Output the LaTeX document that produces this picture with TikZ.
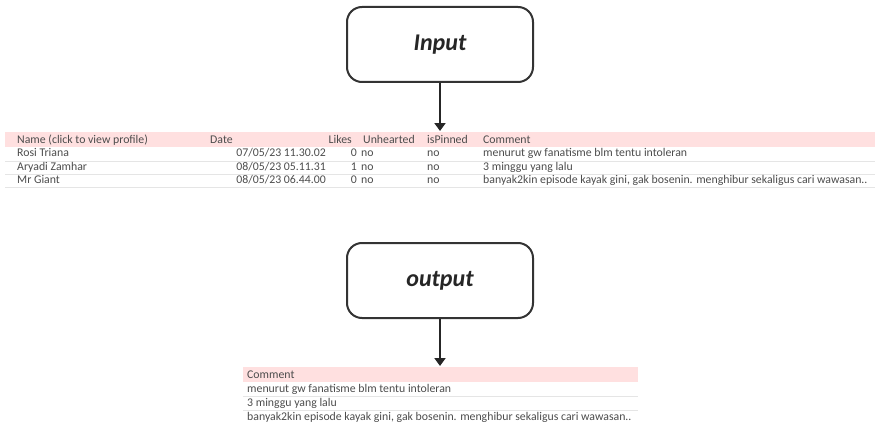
\documentclass[tikz,border=0pt]{standalone}
\usepackage{fontspec}
\setmainfont{Carlito}
\usetikzlibrary{arrows.meta}
\begin{document}
\begin{tikzpicture}[x=1pt,y=-1pt,
  flowbox/.style={draw=black!80,line width=2pt,rounded corners=15pt,minimum width=186pt,minimum height=75pt,font=\fontsize{24}{26}\selectfont\bfseries\itshape,text=black!85},
  conn/.style={draw=black!85,line width=2pt,-{Triangle[length=8pt,width=11pt]}},
  cell/.style={anchor=base west,inner sep=0pt,font=\fontsize{11.8}{13}\selectfont,text=black!70},
  rcell/.style={anchor=base east,inner sep=0pt,font=\fontsize{11.8}{13}\selectfont,text=black!70},
  hdr/.style={fill=red!12,draw=none},
  sep/.style={draw=black!10,line width=0.5pt}]
\useasboundingbox (0,0) rectangle (879,428);
% Input
\node[flowbox] (in) at (440,44.5) {Input};
\fill[hdr] (5,132) rectangle (875,147);
\foreach \yy in {161,174,187} \draw[sep] (5,\yy) -- (875,\yy);
\coordinate (inT) at (440,131);
\draw[conn] (in.south) -- (inT);
% header
\node[cell] (h1) at (17,143) {Name (click to view profile)};
\node[cell] (h2) at (210,143) {Date};
\node[rcell] (h3) at (352,143) {Likes};
\node[cell] (h4) at (363,143) {Unhearted};
\node[cell] (h5) at (427,143) {isPinned};
\node[cell] (h6) at (483,143) {Comment};
% rows
\node[cell] (a1) at (17,157) {Rosi Triana};
\node[rcell] (a2) at (326,157) {07/05/23 11.30.02};
\node[rcell] (a3) at (357,157) {0};
\node[cell] (a4) at (361,157) {no};
\node[cell] (a5) at (427,157) {no};
\node[cell] (a6) at (483,157) {menurut gw fanatisme blm tentu intoleran};
\node[cell] (b1) at (17,170) {Aryadi Zamhar};
\node[rcell] (b2) at (326,170) {08/05/23 05.11.31};
\node[rcell] (b3) at (357,170) {1};
\node[cell] (b4) at (361,170) {no};
\node[cell] (b5) at (427,170) {no};
\node[cell] (b6) at (483,170) {3 minggu yang lalu};
\node[cell] (c1) at (17,183) {Mr Giant};
\node[rcell] (c2) at (326,183) {08/05/23 06.44.00};
\node[rcell] (c3) at (357,183) {0};
\node[cell] (c4) at (361,183) {no};
\node[cell] (c5) at (427,183) {no};
\node[cell] (c6) at (483,183) {banyak2kin episode kayak gini, gak bosenin. menghibur sekaligus cari wawasan..};
% Output
\node[flowbox] (out) at (440,280.5) {output};
\fill[hdr] (243,367) rectangle (638,382);
\foreach \yy in {396,410} \draw[sep] (243,\yy) -- (638,\yy);
\coordinate (outT) at (440,366);
\draw[conn] (out.south) -- (outT);
\node[cell] (o0) at (247,378) {Comment};
\node[cell] (o1) at (247,392) {menurut gw fanatisme blm tentu intoleran};
\node[cell] (o2) at (247,406) {3 minggu yang lalu};
\node[cell] (o3) at (247,420) {banyak2kin episode kayak gini, gak bosenin. menghibur sekaligus cari wawasan..};
\end{tikzpicture}
\end{document}
